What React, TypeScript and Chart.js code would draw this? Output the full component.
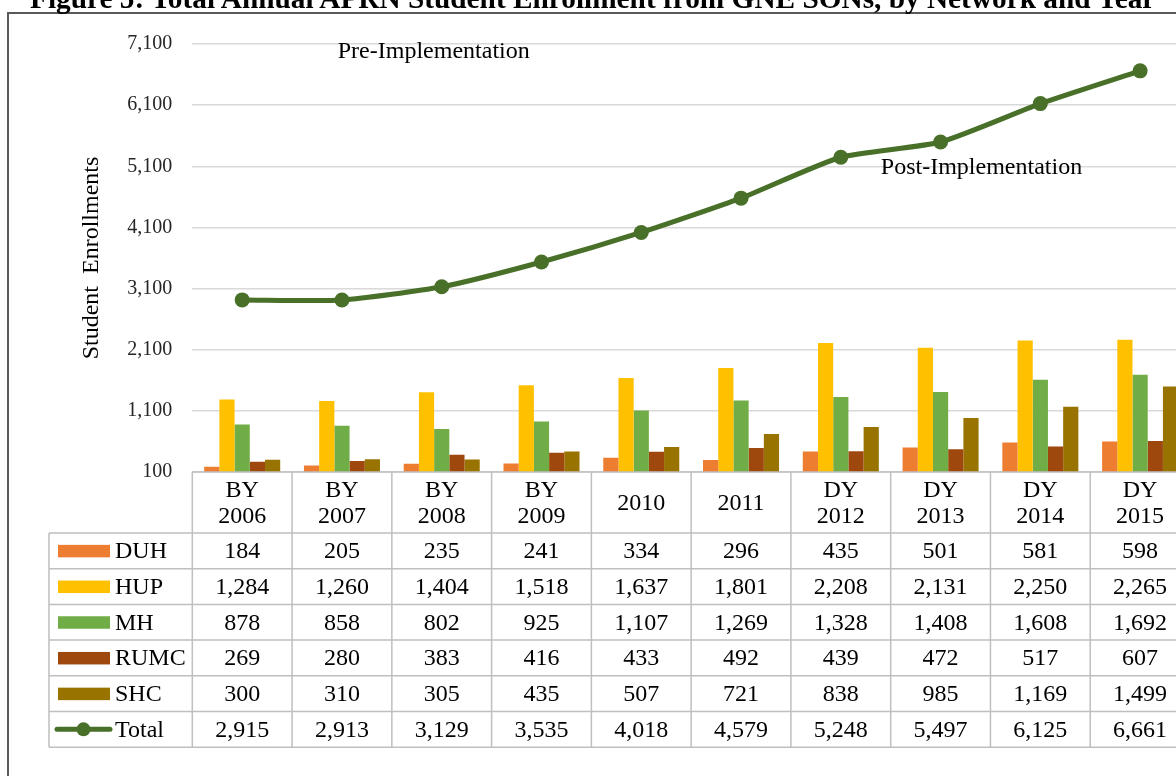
import React, { useEffect, useRef } from "react";
import { Chart, registerables } from "chart.js";

Chart.register(...registerables);

// ---------- data ----------
const categories = ["BY\n2006", "BY\n2007", "BY\n2008", "BY\n2009", "2010", "2011", "DY\n2012", "DY\n2013", "DY\n2014", "DY\n2015"];
const duh = [184, 205, 235, 241, 334, 296, 435, 501, 581, 598];
const hup = [1284, 1260, 1404, 1518, 1637, 1801, 2208, 2131, 2250, 2265];
const mh = [878, 858, 802, 925, 1107, 1269, 1328, 1408, 1608, 1692];
const rumc = [269, 280, 383, 416, 433, 492, 439, 472, 517, 607];
const shc = [300, 310, 305, 435, 507, 721, 838, 985, 1169, 1499];
const total = [2915, 2913, 3129, 3535, 4018, 4579, 5248, 5497, 6125, 6661];
const yTicks = [100, 1100, 2100, 3100, 4100, 5100, 6100, 7100];
const seriesNames = ["DUH", "HUP", "MH", "RUMC", "SHC", "Total"];

const TITLE = "Figure 5: Total Annual APRN Student Enrollment from GNE SONs, by Network and Year";
const Y_TITLE = "Student  Enrollments";
const annotations = [
  { text: "Pre-Implementation", x: 1.92, y: 6871 },
  { text: "Post-Implementation", x: 7.41, y: 4974 },
];

const colors = {
  DUH: "#ED7D31",
  HUP: "#FFC000",
  MH: "#70AD47",
  RUMC: "#9E480E",
  SHC: "#997300",
  Total: "#497029",
};

const SERIF = "'Liberation Serif', 'Times New Roman', serif";
const GRID = "#D9D9D9";
const TABLE_LINE = "#BFBFBF";

const fmt = (v: number) => v.toLocaleString("en-US");

const framePlugin = {
  id: "frame",
  beforeDraw(chart: any) {
    const { ctx, width, height } = chart;
    ctx.save();
    ctx.fillStyle = "#ffffff";
    ctx.fillRect(0, 0, width, height);
    ctx.strokeStyle = "#595959";
    ctx.lineWidth = 2;
    ctx.strokeRect(8, 13, width + 100, height + 100);
    ctx.restore();
  },
};

const tablePlugin = {
  id: "dataTable",
  afterDraw(chart: any) {
    const { ctx, chartArea } = chart;
    const xs = chart.scales.x;
    const ys = chart.scales.y;
    const step = xs.getPixelForValue(1) - xs.getPixelForValue(0);
    const top = chartArea.bottom;
    const headerH = 61;
    const rowH = 35.7;
    const legendLeft = 49;
    const rowsData = [duh, hup, mh, rumc, shc, total];
    const nRows = rowsData.length;
    const tableBottom = top + headerH + rowH * nRows;
    const rightEdge = xs.getPixelForValue(categories.length - 1) + step / 2;

    ctx.save();

    // annotations
    ctx.fillStyle = "#000";
    ctx.font = `24px ${SERIF}`;
    ctx.textAlign = "center";
    ctx.textBaseline = "alphabetic";
    annotations.forEach((a) => {
      ctx.fillText(a.text, xs.getPixelForValue(a.x), ys.getPixelForValue(a.y));
    });

    // lines
    ctx.strokeStyle = TABLE_LINE;
    ctx.lineWidth = 1.5;
    ctx.beginPath();
    ctx.moveTo(chartArea.left, top);
    ctx.lineTo(rightEdge, top);
    for (let r = 0; r <= nRows; r++) {
      const y = top + headerH + rowH * r;
      ctx.moveTo(legendLeft, y);
      ctx.lineTo(rightEdge, y);
    }
    for (let i = 0; i <= categories.length; i++) {
      const x = xs.getPixelForValue(0) - step / 2 + step * i;
      ctx.moveTo(x, top);
      ctx.lineTo(x, tableBottom);
    }
    ctx.moveTo(legendLeft, top + headerH);
    ctx.lineTo(legendLeft, tableBottom);
    ctx.stroke();

    // header labels
    ctx.fillStyle = "#000";
    ctx.font = `24px ${SERIF}`;
    ctx.textAlign = "center";
    ctx.textBaseline = "middle";
    categories.forEach((c, i) => {
      const lines = c.split("\n");
      const cx = xs.getPixelForValue(i);
      const cy = top + headerH / 2 + 1;
      const lh = 26;
      lines.forEach((ln, k) => {
        ctx.fillText(ln, cx, cy + (k - (lines.length - 1) / 2) * lh);
      });
    });

    // rows
    rowsData.forEach((arr, r) => {
      const cy = top + headerH + rowH * r + rowH / 2 + 1;
      arr.forEach((v, i) => {
        ctx.fillStyle = "#000";
        ctx.textAlign = "center";
        ctx.fillText(fmt(v), xs.getPixelForValue(i), cy);
      });
      const name = seriesNames[r];
      const col = (colors as any)[name];
      if (name === "Total") {
        ctx.strokeStyle = col;
        ctx.lineWidth = 5;
        ctx.lineCap = "round";
        ctx.beginPath();
        ctx.moveTo(57, cy - 1);
        ctx.lineTo(110, cy - 1);
        ctx.stroke();
        ctx.fillStyle = col;
        ctx.beginPath();
        ctx.arc(83.5, cy - 1, 7, 0, Math.PI * 2);
        ctx.fill();
      } else {
        ctx.fillStyle = col;
        ctx.fillRect(58, cy - 7, 52, 12.5);
      }
      ctx.fillStyle = "#000";
      ctx.textAlign = "left";
      ctx.fillText(name, 115, cy);
    });

    ctx.restore();
  },
};

export default function App() {
  const ref = useRef<HTMLCanvasElement | null>(null);

  useEffect(() => {
    if (!ref.current) return;
    const barDs = (label: string, data: number[]) => ({
      type: "bar" as const,
      label,
      data,
      backgroundColor: (colors as any)[label],
      borderWidth: 0,
      categoryPercentage: 0.762,
      barPercentage: 1,
      order: 2,
    });
    const chart = new Chart(ref.current, {
      type: "bar",
      data: {
        labels: categories,
        datasets: [
          barDs("DUH", duh),
          barDs("HUP", hup),
          barDs("MH", mh),
          barDs("RUMC", rumc),
          barDs("SHC", shc),
          {
            type: "line" as const,
            label: "Total",
            data: total,
            borderColor: colors.Total,
            backgroundColor: colors.Total,
            borderWidth: 5,
            pointRadius: 7.5,
            pointBorderWidth: 0,
            pointBackgroundColor: colors.Total,
            tension: 0.2,
            order: 0,
          } as any,
        ],
      },
      options: {
        animation: false,
        responsive: false,
        devicePixelRatio: 1,
        layout: { padding: { left: 0, top: 44, right: 25, bottom: 304 } },
        plugins: {
          legend: { display: false },
          tooltip: { enabled: false },
          title: { display: false },
        },
        scales: {
          x: {
            display: false,
            offset: true,
          },
          y: {
            min: 100,
            max: 7100,
            afterBuildTicks: (scale: any) => {
              scale.ticks = yTicks.map((v) => ({ value: v }));
            },
            afterFit: (scale: any) => {
              scale.width = 192.3;
            },
            grid: { color: GRID, lineWidth: 1.5, drawTicks: false },
            border: { display: false },
            ticks: {
              padding: 20,
              color: "#262626",
              font: { family: SERIF, size: 20 },
              callback: (v: any) => fmt(Number(v)),
            },
            title: {
              display: true,
              text: Y_TITLE,
              color: "#000",
              font: { family: SERIF, size: 24 },
              padding: { top: 77, bottom: 0 },
            },
          },
        },
      },
      plugins: [framePlugin, tablePlugin],
    } as any);
    return () => chart.destroy();
  }, []);

  return (
    <div
      style={{
        position: "fixed",
        left: 0,
        top: 0,
        width: 1176,
        height: 776,
        overflow: "hidden",
        background: "#fff",
      }}
    >
      <canvas ref={ref} width={1215} height={776} style={{ position: "absolute", left: 0, top: 0, width: 1215, height: 776 }} />
      <div
        style={{
          position: "absolute",
          left: 30,
          top: -16,
          whiteSpace: "nowrap",
          fontFamily: SERIF,
          fontWeight: "bold",
          fontSize: 29.3,
          lineHeight: "29px",
          color: "#000",
        }}
      >
        {TITLE}
      </div>
    </div>
  );
}
